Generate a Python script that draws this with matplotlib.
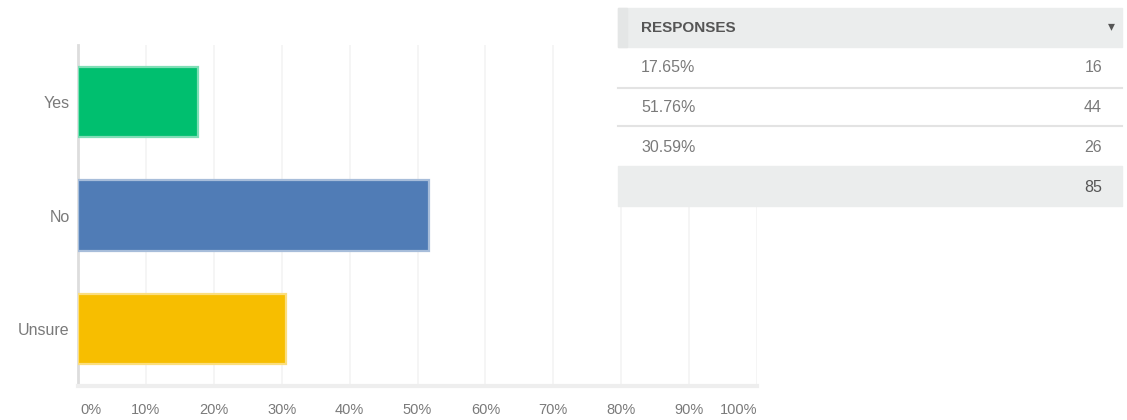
import matplotlib.pyplot as plt
from matplotlib.patches import Rectangle
import numpy as np

# survey answers
categories = ["Yes", "No", "Unsure"]
percents = [17.65, 51.76, 30.59]
counts = [16, 44, 26]
total = 85
bar_colors = ["#00BF6F", "#507CB6", "#F7BE00"]
edge_colors = ["#7FDEB6", "#A7BDDA", "#FBDE7F"]
xticks = [0, 10, 20, 30, 40, 50, 60, 70, 80, 90, 100]

plt.rcParams['font.family'] = ['Liberation Sans', 'DejaVu Sans']

W, H = 1127, 420
fig = plt.figure(figsize=(W / 100, H / 100), dpi=100)

def fx(px):
    return px / W

def fy(py):
    return 1 - py / H

# bar chart
ax = fig.add_axes([fx(78), fy(386), fx(757) - fx(78), fy(45) - fy(386)])
y = np.arange(len(categories))
ax.barh(y, percents, height=0.62, color=bar_colors, edgecolor=edge_colors,
        linewidth=1.6, zorder=3)
ax.set_xlim(0, 100)
ax.set_ylim(2.5, -0.5)
for t in xticks[1:]:
    ax.axvline(t, color="#f4f4f4", lw=1.2, zorder=1)
ax.set_yticks(y)
ax.set_yticklabels(categories, fontsize=11.5, color="#7a7a7a")
ax.tick_params(axis="y", length=0, pad=6)
ax.set_xticks([])
for s in ["top", "right"]:
    ax.spines[s].set_visible(False)
ax.spines["left"].set_color("#dddddd")
ax.spines["left"].set_linewidth(2)
ax.spines["bottom"].set_color("#eeeeee")
ax.spines["bottom"].set_linewidth(3)

# x labels, kept inside the plot width at both ends
label_y = -(410 - 386) / (386 - 45)
for t in xticks:
    ha = "center"
    xpos = t
    if t == 0:
        ha = "left"
        xpos = 0.3
    elif t == 100:
        ha = "right"
    ax.text(xpos, label_y, f"{t}%", transform=ax.get_xaxis_transform(),
            ha=ha, va="center", fontsize=10.5, color="#7a7a7a")

# responses table (white body hides the grid behind it)
tx0, tx1 = 618, 1122

def box(top, bottom, color, left=tx0, right=tx1):
    fig.add_artist(Rectangle((fx(left), fy(bottom)), fx(right) - fx(left),
                             fy(top) - fy(bottom), transform=fig.transFigure,
                             color=color, zorder=5))

box(47, 166, "white")
box(8, 47, "#ebeded")
box(8, 47, "#e4e6e6", right=tx0 + 9)
box(166, 206, "#ebeded")

fig.text(fx(641), fy(28), "RESPONSES", fontsize=11, fontweight="bold",
         color="#555555", va="center", zorder=6)
fig.text(fx(1111), fy(26), "\u25BE", fontsize=10, color="#555555",
         va="center", ha="center", zorder=6)

row_y = [67, 107, 147]
for i, (p, c) in enumerate(zip(percents, counts)):
    fig.text(fx(641), fy(row_y[i]), f"{p:.2f}%", fontsize=11.5, color="#7a7a7a",
             va="center", zorder=6)
    fig.text(fx(1102), fy(row_y[i]), str(c), fontsize=11.5, color="#7a7a7a",
             va="center", ha="right", zorder=6)
for ly in [88, 126]:
    fig.add_artist(plt.Line2D([fx(tx0), fx(tx1)], [fy(ly), fy(ly)],
                              color="#e3e3e3", lw=1.5, zorder=6))

fig.text(fx(1102), fy(187), str(total), fontsize=11.5, color="#555555",
         va="center", ha="right", zorder=6)

fig.savefig("out.png", dpi=100)
